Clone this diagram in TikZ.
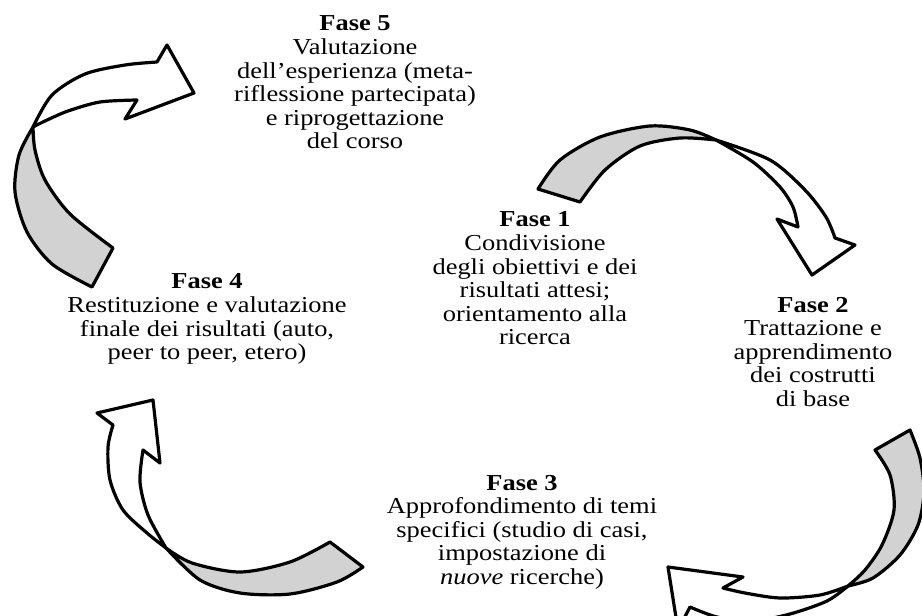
\documentclass[tikz,border=0pt]{standalone}
\usepackage{fontspec}
\setmainfont{Liberation Serif}[FakeStretch=1.16]
\definecolor{ribbon}{RGB}{210,210,210}
\tikzset{
  phase/.style={anchor=north, inner sep=0pt, align=center,
    font=\fontsize{22.8pt}{23.6pt}\selectfont},
  back/.style={fill=ribbon, draw=black, line width=3.2pt, line join=round},
  front/.style={fill=white, draw=black, line width=3.2pt, line join=round}
}
\begin{document}
\begin{tikzpicture}[x=1pt,y=-1pt]
\useasboundingbox (0,0) rectangle (922,616);
\begin{scope}
\clip (0,0) rectangle (922,616);
% Arrow Fase 4 -> Fase 5 (top left)
\path[back] plot[smooth] coordinates {(92,287) (52,264) (27,232) (15,192) (19,155) (33,127)}
  -- plot[smooth] coordinates {(33,127) (35,150) (45,180) (70,214) (113,248)} -- cycle;
\path[front] plot[smooth] coordinates {(33,127) (52,95) (85,74) (125,65) (157,62)}
  -- (167,45) -- (194,93) -- (125,119) -- (137,100)
  -- plot[smooth] coordinates {(137,100) (100,102) (68,111) (45,121) (33,127)} -- cycle;
% Arrow Fase 1 -> Fase 2 (top right)
\path[back] plot[smooth] coordinates {(538,189) (560,160) (600,137) (650,126) (690,130) (716,140)}
  -- plot[smooth] coordinates {(716,140) (680,138) (640,146) (605,170) (580,202)} -- cycle;
\path[front] plot[smooth] coordinates {(716,140) (770,160) (805,190) (826,217) (835,238)}
  -- (855,245) -- (812,275) -- (777,219) -- (798,227)
  -- plot[smooth] coordinates {(798,227) (793,207) (780,187) (753,162) (716,140)} -- cycle;
% Arrow Fase 2 -> Fase 3 (bottom right)
\path[back] plot[smooth] coordinates {(875,450) (890,475) (894,510) (882,545) (865,570) (848,586)}
  -- plot[smooth] coordinates {(848,586) (873,578) (900,555) (918,525) (924,492) (920,458) (910,430)} -- cycle;
\path[front] plot[smooth] coordinates {(848,586) (820,595) (780,598) (745,593) (723,588)}
  -- (743,577) -- (668,567) -- (678,630) -- (690,607)
  -- plot[smooth] coordinates {(690,607) (717,617) (752,621) (790,614) (827,601) (848,586)} -- cycle;
% Arrow Fase 3 -> Fase 4 (bottom left)
\path[back] plot[smooth] coordinates {(166,548) (192,563) (240,572) (290,562) (330,542)}
  -- (363,567)
  -- plot[smooth] coordinates {(363,567) (337,582) (290,594) (240,593) (200,580) (166,548)} -- cycle;
\path[front] plot[smooth] coordinates {(166,548) (147,533) (123,510) (110,480) (108,447) (113,425)}
  -- (97,413) -- (153,400) -- (160,463) -- (143,450)
  -- plot[smooth] coordinates {(143,450) (140,482) (148,515) (166,548)} -- cycle;
\end{scope}
% Texts
\node[phase] (f5) at (355,15.7) {\textbf{Fase 5}\\Valutazione\\dell’esperienza (meta-\\riflessione partecipata)\\e riprogettazione\\del corso};
\node[phase] (f1) at (535,211.7) {\textbf{Fase 1}\\Condivisione\\degli obiettivi e dei\\risultati attesi;\\orientamento alla\\ricerca};
\node[phase] (f4) at (207,273.7) {\textbf{Fase 4}\\Restituzione e valutazione\\finale dei risultati (auto,\\peer to peer, etero)};
\node[phase] (f2) at (813,296.7) {\textbf{Fase 2}\\Trattazione e\\apprendimento\\dei costrutti\\di base};
\node[phase] (f3) at (522,474.7) {\textbf{Fase 3}\\Approfondimento di temi\\specifici (studio di casi,\\impostazione di\\\textit{nuove} ricerche)};
\end{tikzpicture}
\end{document}
